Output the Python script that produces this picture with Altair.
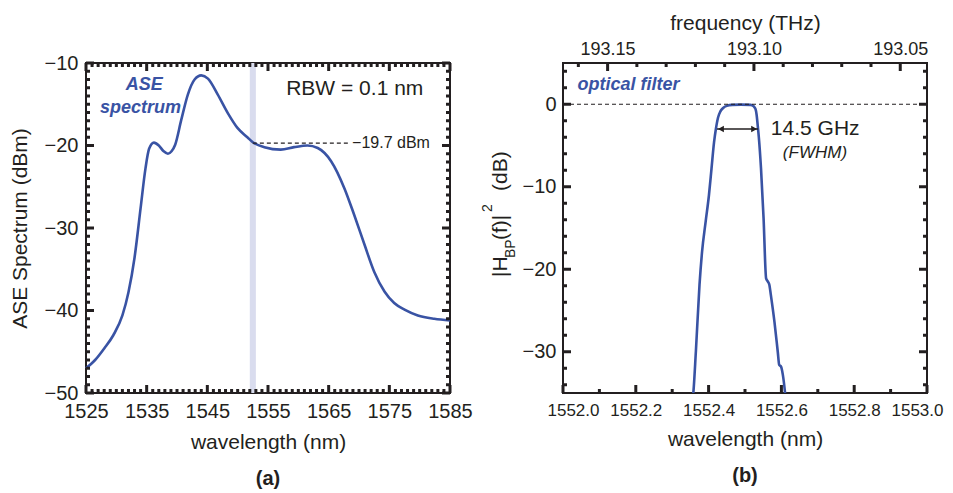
import altair as alt
import pandas as pd

FONT = "Liberation Sans"
BLUE = "#3953a4"
INK = "#231f20"
BAND = "#d9dcee"
C_NM_THZ = 299792.458

# ---------------- data: panel (a) ASE spectrum ----------------
ase_wl = [1525.0, 1526.5, 1528.0, 1529.5, 1531.0, 1532.0, 1533.0, 1534.0, 1534.8, 1535.4,
          1536.2, 1537.0, 1537.8, 1538.5, 1539.1, 1539.7, 1540.7, 1541.8, 1542.9, 1544.0,
          1545.1, 1546.7, 1548.4, 1550.0, 1551.6, 1552.5, 1554.4, 1557.1, 1559.3, 1561.5,
          1563.2, 1565.4, 1567.6, 1569.2, 1570.9, 1572.5, 1574.2, 1575.8, 1577.5, 1579.7,
          1582.4, 1585.0]
ase_db = [-47.0, -46.0, -44.6, -43.0, -40.6, -37.8, -33.6, -27.6, -22.8, -20.4,
          -19.65, -20.0, -20.7, -21.0, -20.7, -19.9, -16.9, -13.8, -12.0, -11.5,
          -11.9, -13.8, -16.1, -17.9, -19.0, -19.6, -20.2, -20.5, -20.2, -20.0,
          -20.3, -21.9, -25.2, -28.4, -32.0, -35.3, -37.7, -39.1, -39.9, -40.6,
          -41.0, -41.2]
filter_band = [1552.0, 1553.0]
ref_level = -19.7
ref_span = [1552.5, 1568.2]

# ---------------- data: panel (b) optical filter ----------------
filt_wl = [1552.352, 1552.358, 1552.365, 1552.375, 1552.382, 1552.392, 1552.401, 1552.408,
           1552.415, 1552.420, 1552.426, 1552.432, 1552.440, 1552.450, 1552.465, 1552.489,
           1552.515, 1552.524, 1552.529, 1552.532, 1552.535, 1552.538, 1552.544, 1552.551,
           1552.558, 1552.563, 1552.567, 1552.571, 1552.581, 1552.590, 1552.594, 1552.599,
           1552.604, 1552.610, 1552.613]
filt_db = [-36.5, -35.0, -30.0, -21.9, -17.9, -14.2, -11.0, -7.8,
           -4.6, -3.0, -1.6, -0.9, -0.45, -0.2, -0.08, -0.05,
           -0.08, -0.25, -0.6, -1.3, -2.6, -4.0, -7.8, -13.8,
           -21.1, -21.5, -21.9, -23.1, -26.4, -30.0, -31.6, -31.8,
           -32.8, -35.0, -36.5]
fwhm_edges = [1552.423, 1552.536]
fwhm_level = -3.0

# axis tick values
a_x_ticks = list(range(1525, 1586))
a_x_major = list(range(1525, 1586, 10))
a_y_ticks = list(range(-50, -9))
a_y_major = [-50, -40, -30, -20, -10]
b_x_ticks = [round(1552.0 + 0.1 * i, 1) for i in range(11)]
b_x_major = [round(1552.0 + 0.2 * i, 1) for i in range(6)]
b_y_ticks = list(range(-34, 5, 2))
b_y_major = [-30, -20, -10, 0]
b_f_ticks = [round(193.05 + 0.01 * i, 2) for i in range(12)]
b_f_major = [193.05, 193.10, 193.15]

W, H = 364, 330
MAJ, MIN = 8, 4   # inward tick lengths (px)
TW = 3            # tick stroke width


def side_ticks(vals, majors, xenc, yenc, side):
    """Inward border ticks: position from the scale, length in pixels."""
    out = []
    groups = [([v for v in vals if v in majors], MAJ), ([v for v in vals if v not in majors], MIN)]
    for vs, ln in groups:
        if not vs:
            continue
        df = pd.DataFrame({"p": vs})
        base = alt.Chart(df).mark_rule(color=INK, strokeWidth=TW)
        if side == "bottom":
            ch = base.encode(x=xenc("p"), y=alt.value(H), y2=alt.value(H - ln))
        elif side == "top":
            ch = base.encode(x=xenc("p"), y=alt.value(0), y2=alt.value(ln))
        elif side == "left":
            ch = base.encode(y=yenc("p"), x=alt.value(0), x2=alt.value(ln))
        else:
            ch = base.encode(y=yenc("p"), x=alt.value(W), x2=alt.value(W - ln))
        out.append(ch)
    return out

# ================= panel (a) =================
xa_dom = [1525, 1585]
ya_dom = [-50, -10]
AX_XA = alt.Axis(values=a_x_major, format="d", title="wavelength (nm)", labelPadding=8,
                 titlePadding=10, labelOverlap=False, labelFlush=False)
AX_YA = alt.Axis(values=a_y_major, format="d", title="ASE Spectrum (dBm)", labelPadding=8,
                 titlePadding=14, labelOverlap=False, labelFlush=False)
def XA(field):
    return alt.X(field, type="quantitative", scale=alt.Scale(domain=xa_dom, nice=False, zero=False), axis=AX_XA)
def YA(field):
    return alt.Y(field, type="quantitative", scale=alt.Scale(domain=ya_dom, nice=False, zero=False), axis=AX_YA)

ase_df = pd.DataFrame({"wl": ase_wl, "db": ase_db})
band_a = alt.Chart(pd.DataFrame({"x0": [filter_band[0]], "x1": [filter_band[1]],
                                 "y0": [ya_dom[0]], "y1": [ya_dom[1]]})).mark_rect(
    color=BAND).encode(x=XA("x0"), x2="x1", y=YA("y0"), y2="y1")

curve_a = alt.Chart(ase_df).mark_line(color=BLUE, strokeWidth=2.6, interpolate="monotone").encode(
    x=XA("wl"), y=YA("db"))

ref_df = pd.DataFrame({"x0": [ref_span[0]], "x1": [ref_span[1]], "y": [ref_level],
                       "lab": ["\u221219.7 dBm"]})
ref_line = alt.Chart(ref_df).mark_rule(color=INK, strokeWidth=1.2, strokeDash=[4, 3]).encode(
    x=XA("x0"), x2="x1", y=YA("y"))
ref_text = alt.Chart(ref_df).mark_text(font=FONT, fontSize=16, color=INK, align="left",
                                       baseline="middle", dx=4).encode(
    x=XA("x1"), y=YA("y"), text="lab:N")

rbw_text = alt.Chart(pd.DataFrame({"x": [1569.3], "y": [-13.2], "t": ["RBW = 0.1 nm"]})).mark_text(
    font=FONT, fontSize=21, color=INK, align="center", baseline="middle").encode(
    x=XA("x"), y=YA("y"), text="t:N")
ase_lab = alt.Chart(pd.DataFrame({"x": [1534.6, 1534.0], "y": [-12.7, -15.4],
                                  "t": ["ASE", "spectrum"]})).mark_text(
    font=FONT, fontSize=18, fontWeight="bold", fontStyle="italic", color=BLUE,
    align="center", baseline="middle").encode(x=XA("x"), y=YA("y"), text="t:N")

ticks_a = []
for s in ("bottom", "top"):
    ticks_a += side_ticks(a_x_ticks, a_x_major, XA, YA, s)
for s in ("left", "right"):
    ticks_a += side_ticks(a_y_ticks, a_y_major, XA, YA, s)

panel_a = alt.layer(band_a, curve_a, ref_line, ref_text, rbw_text, ase_lab, *ticks_a).properties(
    width=W, height=H,
    title=alt.TitleParams("(a)", orient="bottom", font=FONT, fontSize=20, fontWeight="bold",
                          color=INK, offset=17))

# ================= panel (b) =================
xb_dom = [1552.0, 1553.0]
yb_dom = [-35, 5]
AX_XB = alt.Axis(values=b_x_major, format=".1f", title="wavelength (nm)", labelPadding=9,
                 titlePadding=10, labelOverlap=False, labelFlush=True, labelFlushOffset=16,
                 labelFontSize=17)
AX_YB = alt.Axis(values=b_y_major, format="d", title=None, labelPadding=7, labelOverlap=False,
                 labelFlush=False)
def XB(field):
    return alt.X(field, type="quantitative", scale=alt.Scale(domain=xb_dom, nice=False, zero=False), axis=AX_XB)
def YB(field):
    return alt.Y(field, type="quantitative", scale=alt.Scale(domain=yb_dom, nice=False, zero=False), axis=AX_YB)

filt_df = pd.DataFrame({"wl": filt_wl, "db": filt_db})
zero_line = alt.Chart(pd.DataFrame({"x0": [xb_dom[0]], "x1": [xb_dom[1]], "y": [0]})).mark_rule(
    color=INK, strokeWidth=1.2, strokeDash=[4, 3]).encode(x=XB("x0"), x2="x1", y=YB("y"))
curve_b = alt.Chart(filt_df).mark_line(color=BLUE, strokeWidth=2.6, interpolate="monotone",
                                       clip=True).encode(x=XB("wl"), y=YB("db"))

fw_df = pd.DataFrame({"x0": [fwhm_edges[0]], "x1": [fwhm_edges[1]], "y": [fwhm_level]})
fw_rule = alt.Chart(fw_df).mark_rule(color=INK, strokeWidth=1.3).encode(x=XB("x0"), x2="x1", y=YB("y"))
fw_left = alt.Chart(fw_df).mark_point(shape="triangle-left", filled=True, size=45, color=INK,
                                      opacity=1, xOffset=4).encode(x=XB("x0"), y=YB("y"))
fw_right = alt.Chart(fw_df).mark_point(shape="triangle-right", filled=True, size=45, color=INK,
                                       opacity=1, xOffset=-4).encode(x=XB("x1"), y=YB("y"))
fw_txt = alt.Chart(pd.DataFrame({"x": [1552.571], "y": [-3.0], "t": ["14.5 GHz"]})).mark_text(
    font=FONT, fontSize=21, color=INK, align="left", baseline="middle").encode(
    x=XB("x"), y=YB("y"), text="t:N")
fw_txt2 = alt.Chart(pd.DataFrame({"x": [1552.604], "y": [-5.9], "t": ["(FWHM)"]})).mark_text(
    font=FONT, fontSize=17, fontStyle="italic", color=INK, align="left", baseline="middle").encode(
    x=XB("x"), y=YB("y"), text="t:N")
of_txt = alt.Chart(pd.DataFrame({"x": [1552.04], "y": [2.3], "t": ["optical filter"]})).mark_text(
    font=FONT, fontSize=18, fontWeight="bold", fontStyle="italic", color=BLUE,
    align="left", baseline="middle").encode(x=XB("x"), y=YB("y"), text="t:N")

# y-axis title with subscript / superscript, built from pieces
def piece(txt, size, xpix, ypix):
    return alt.Chart(alt.Data(values=[{}])).mark_text(
        font=FONT, fontSize=size, color=INK, angle=270, align="left", baseline="alphabetic").encode(
        x=alt.value(xpix), y=alt.value(ypix), text=alt.value(txt))
title_b = [piece("|H", 21, -56, 214), piece("BP", 14, -48, 195), piece("(f)|", 21, -56, 177),
           piece("2", 14, -71, 149), piece("(dB)", 21, -56, 128)]

ticks_b = side_ticks(b_x_ticks, b_x_major, XB, YB, "bottom")
for s in ("left", "right"):
    ticks_b += side_ticks(b_y_ticks, b_y_major, XB, YB, s)

inner_b = alt.layer(curve_b, zero_line, fw_rule, fw_left, fw_right, fw_txt, fw_txt2,
                    of_txt, *title_b, *ticks_b)

# top frequency axis
f_dom = [C_NM_THZ / xb_dom[1], C_NM_THZ / xb_dom[0]]
AX_F = alt.Axis(orient="top", values=b_f_major, format=".2f", title="frequency (THz)",
                labelPadding=5, titlePadding=7, labelOverlap=False, labelFlush=False,
                labelFontSize=18)
def XF(field):
    return alt.X(field, type="quantitative",
                 scale=alt.Scale(domain=f_dom, reverse=True, nice=False, zero=False), axis=AX_F)
freq_layer = alt.layer(*side_ticks(b_f_ticks, b_f_major, XF, YB, "top"))

panel_b = alt.layer(inner_b, freq_layer).resolve_scale(x="independent").properties(
    width=W, height=H,
    title=alt.TitleParams("(b)", orient="bottom", font=FONT, fontSize=20, fontWeight="bold",
                          color=INK, offset=17))

chart = alt.hconcat(panel_a, panel_b, spacing=113, bounds="flush").properties(
    padding={"left": 0, "top": 3, "right": 0, "bottom": 0}
).configure_view(stroke=INK, strokeWidth=2).configure_axis(
    labelFont=FONT, titleFont=FONT, labelColor=INK, titleColor=INK, labelFontSize=20,
    titleFontSize=21, titleFontWeight="normal", grid=False, ticks=False, domain=False)

chart.save("out.html", embed_options={"renderer": "svg", "actions": False})
